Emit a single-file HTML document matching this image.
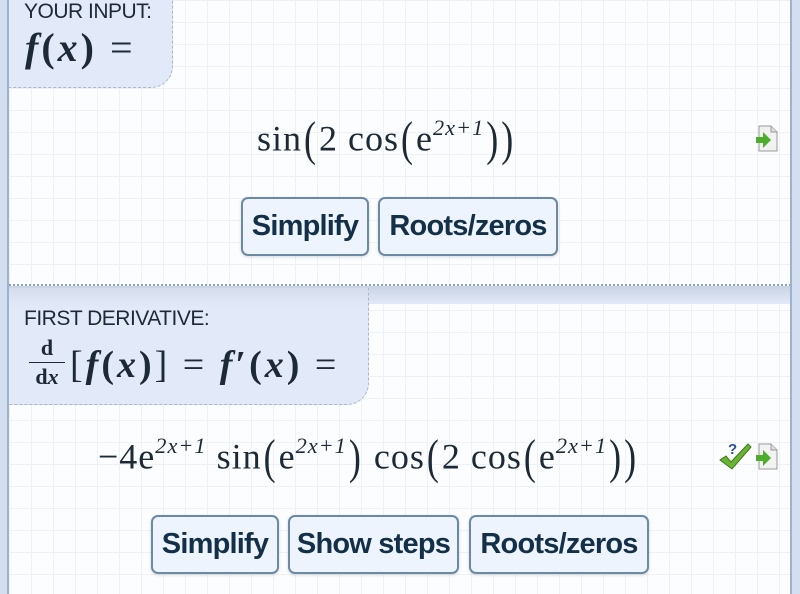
<!DOCTYPE html>
<html><head><meta charset="utf-8"><style>
*{margin:0;padding:0;box-sizing:border-box}
body{width:800px;height:594px;overflow:hidden;background:#d3def0;position:relative;font-family:"Liberation Sans",sans-serif}
.panel{position:absolute;left:9px;width:782px;background-color:#fcfdff;
background-image:linear-gradient(#eef1f6 1px,transparent 1px),linear-gradient(90deg,#eef1f6 1px,transparent 1px);background-size:22px 22px}
.vl{position:absolute;top:0;bottom:0;width:2px;background:#9fb2cc}
.lab{position:absolute;left:9px;background:#e2e9f9;border-right:1.5px dashed #a9b8cc;border-bottom:1.5px dashed #a9b8cc;border-bottom-right-radius:22px}
.lt{position:absolute;left:24px;font-size:21px;color:#1d2a36;letter-spacing:-0.5px}
.m{font-family:"Liberation Serif",serif;color:#1d2a36;position:absolute;white-space:nowrap}
.b{font-weight:bold;font-style:italic}
.btn{position:absolute;height:59px;border:2px solid #6d8aa5;border-radius:7px;background:#eef4fd;color:#143048;font-weight:bold;font-size:29px;display:flex;align-items:center;justify-content:center;letter-spacing:-0.8px;box-shadow:0 1px 3px rgba(0,0,0,.15)}
.p{display:inline-block;transform:scaleY(1.35);font-weight:normal;margin:0 2px}
.e{letter-spacing:1px}
sup{font-size:0.62em;font-style:italic;vertical-align:0.7em;letter-spacing:1px}
.icon{position:absolute;width:22px;height:27px}
</style></head><body>
<div class="panel" style="top:0;height:286px;border-bottom:2px dotted #8ea2ba"></div>
<div class="panel" style="top:288px;height:306px;"></div>
<div style="position:absolute;left:9px;top:286px;width:782px;height:18px;background:linear-gradient(#c9d3e3,#e2e9f9)"></div>
<div class="vl" style="left:7px"></div>
<div class="vl" style="left:790px"></div>

<div class="lab" style="top:0;width:164px;height:88px"></div>
<div class="lt" style="top:0px">YOUR INPUT:</div>
<div class="m b" style="left:25px;top:24px;font-size:40px;letter-spacing:3px">f<span style="font-style:normal">(</span>x<span style="font-style:normal">)</span> <span style="font-style:normal;font-weight:normal">=</span></div>

<div class="lab" style="top:288px;width:360px;height:117px;background:linear-gradient(#d6deee,#e2e9f9 20px)"></div>
<div class="lt" style="top:307px">FIRST DERIVATIVE:</div>
<div class="m" style="left:29px;top:336px;font-size:22px;font-weight:bold;text-align:center;width:36px;line-height:24px">d<div style="border-top:1.5px solid #1d2a36;margin:2px 0"></div>d<i>x</i></div>
<div class="m b" style="left:70px;top:343px;font-size:38px;letter-spacing:3px"><span style="font-style:normal;font-weight:normal">[</span>f<span style="font-style:normal">(</span>x<span style="font-style:normal">)</span><span style="font-style:normal;font-weight:normal">]</span> <span style="font-style:normal;font-weight:normal">=</span> f<span style="font-style:normal">′(</span>x<span style="font-style:normal">)</span> <span style="font-style:normal;font-weight:normal">=</span></div>

<div class="m e" style="left:257px;top:115px;font-size:36px">sin<span class="p">(</span>2 cos<span class="p">(</span>e<sup>2x+1</sup><span class="p">)</span><span class="p" style="margin:0">)</span></div>
<div class="m e" style="left:98px;top:433px;font-size:36px">−4e<sup>2x+1</sup> sin<span class="p">(</span>e<sup>2x+1</sup><span class="p">)</span> cos<span class="p">(</span>2 cos<span class="p">(</span>e<sup>2x+1</sup><span class="p">)</span><span class="p" style="margin:0">)</span></div>

<div class="btn" style="left:241px;top:197px;width:128px">Simplify</div>
<div class="btn" style="left:378px;top:197px;width:180px">Roots/zeros</div>
<div class="btn" style="left:151px;top:515px;width:128px">Simplify</div>
<div class="btn" style="left:288px;top:515px;width:171px">Show steps</div>
<div class="btn" style="left:469px;top:515px;width:180px">Roots/zeros</div>

<svg class="icon" style="left:756px;top:125px" viewBox="0 0 22 27"><path d="M3 1h12l6 6v19H3z" fill="#f2f2f2" stroke="#999"/><path d="M15 1v6h6" fill="#ddd" stroke="#999"/><path d="M0 12h7v-5l8 8-8 8v-5H0z" fill="#4cae2c"/></svg>
<svg class="icon" style="left:756px;top:443px" viewBox="0 0 22 27"><path d="M3 1h12l6 6v19H3z" fill="#f2f2f2" stroke="#999"/><path d="M15 1v6h6" fill="#ddd" stroke="#999"/><path d="M0 12h7v-5l8 8-8 8v-5H0z" fill="#4cae2c"/></svg>
<svg style="position:absolute;left:718px;top:440px" width="34" height="32" viewBox="0 0 34 32"><path d="M2 20l6-4 5 6L30 4l3 3-19 22z" fill="#6ab433" stroke="#3d7a1a"/><text x="10" y="14" font-family="Liberation Sans" font-weight="bold" font-size="15" fill="#2a4f9a">?</text></svg>
</body></html>
